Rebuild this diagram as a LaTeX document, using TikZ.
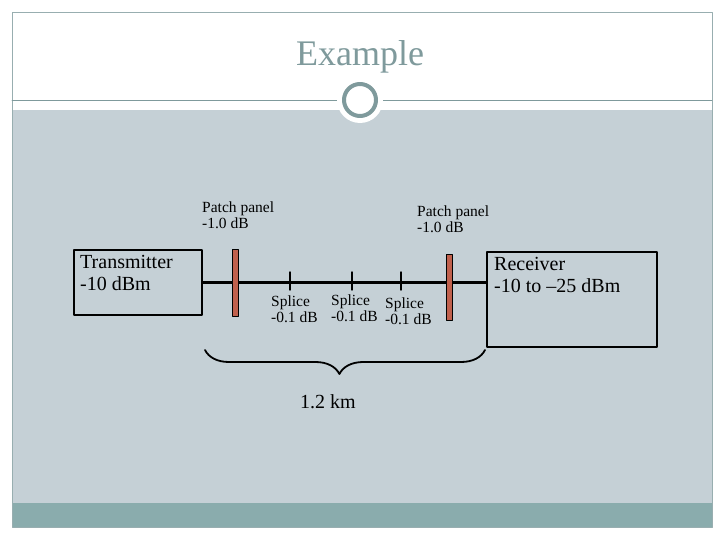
\documentclass[tikz,border=0pt]{standalone}
\usepackage{fontspec}
\setmainfont{Liberation Serif}
\usetikzlibrary{decorations.pathreplacing}
\definecolor{panelgray}{rgb}{0.773,0.816,0.839}
\definecolor{barteal}{rgb}{0.541,0.675,0.678}
\definecolor{ringgray}{rgb}{0.498,0.604,0.612}
\definecolor{patchred}{rgb}{0.753,0.376,0.302}
\tikzset{
  box/.style={draw=black,line width=1.8pt,inner sep=0pt,anchor=north west},
  boxtext/.style={font=\fontsize{20}{22}\selectfont,align=left,inner sep=0pt,anchor=north west},
  patch/.style={draw=black,fill=patchred,line width=1pt,minimum width=6pt,inner sep=0pt},
  lbl/.style={font=\fontsize{15.5}{16}\selectfont,align=left,inner sep=0pt},
}
\begin{document}
\begin{tikzpicture}[x=1pt,y=-1pt,line cap=round,line join=round]
\useasboundingbox (0,0) rectangle (720,540);
\fill[white] (0,0) rectangle (720,540);
% slide
\fill[panelgray] (12,110) rectangle (712,503);
\fill[barteal] (12,503) rectangle (712,527);
\draw[ringgray!80,line width=0.6pt] (12,12) rectangle (712,527);
\draw[ringgray,line width=0.8pt] (12,100) -- (712,100);
\fill[white] (360,100) circle (23);
\draw[ringgray,line width=4pt] (360,100) circle (16);
\node[text=ringgray,font=\fontsize{36}{38}\selectfont] (title) at (360,57) {Example};
% link
\node[box,minimum width=128pt,minimum height=65pt] (tx) at (73,249) {};
\node[boxtext] (txl) at (80,255) {Transmitter\\-10 dBm};
\node[box,minimum width=170pt,minimum height=95pt] (rx) at (486,251) {};
\node[boxtext] (rxl) at (494,257) {Receiver\\-10 to --25 dBm};
\coordinate (rxin) at (tx.east -| rx.west);
\draw[line width=2.2pt] (tx.east) -- (rxin);
\node[patch,minimum height=67pt] (pp1) at (235,282.5) {};
\node[patch,minimum height=66pt] (pp2) at (449,287) {};
\foreach \n/\x in {sp1/290,sp2/352,sp3/401}
  \draw[line width=1.4pt] (\x,272) coordinate (\n) -- (\x,290);
\node[lbl,anchor=north west] (pl1) at (202,202) {Patch panel\\-1.0 dB};
\node[lbl,anchor=north west] (pl2) at (417,206) {Patch panel\\-1.0 dB};
\node[lbl,anchor=north west] (sl1) at (271,296) {Splice\\-0.1 dB};
\node[lbl,anchor=north west] (sl2) at (331,295) {Splice\\-0.1 dB};
\node[lbl,anchor=north west] (sl3) at (385,298) {Splice\\-0.1 dB};
% length
\coordinate (bl) at (205,350);
\coordinate (br) at (485,350);
\draw[line width=1.8pt,decorate,decoration={brace,mirror,amplitude=24pt,aspect=0.48}] (bl) -- (br);
\node[font=\fontsize{20}{22}\selectfont] (len) at (328,402) {1.2 km};
\end{tikzpicture}
\end{document}
